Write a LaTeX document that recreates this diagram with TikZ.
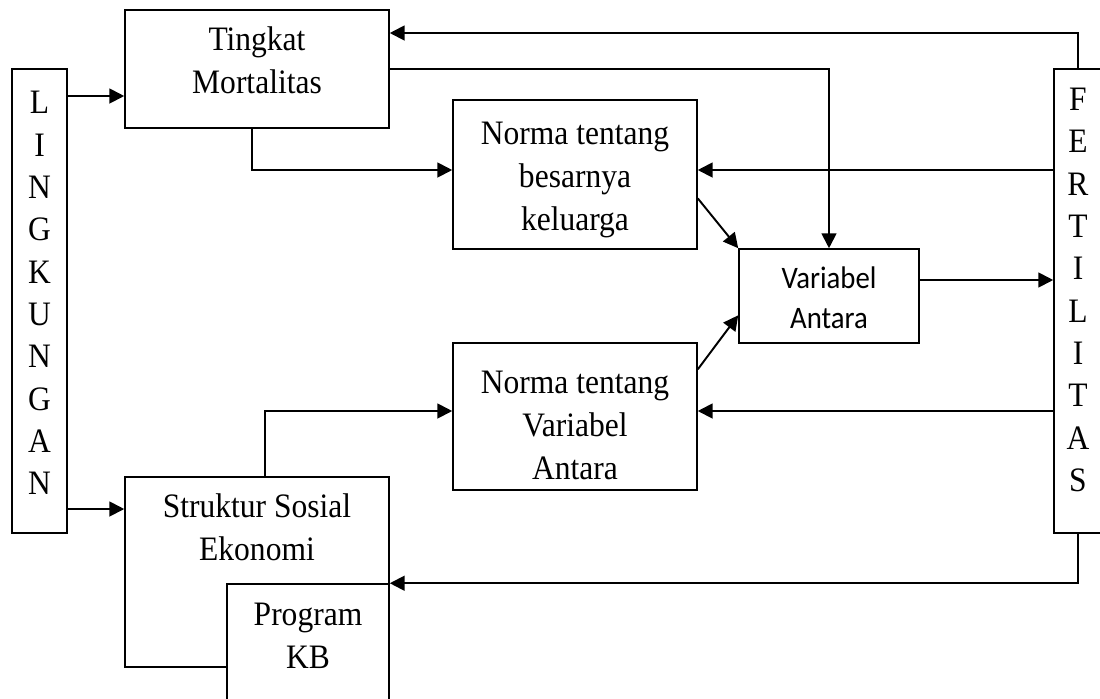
\documentclass[tikz,border=0pt]{standalone}
\usepackage{fontspec}
\setmainfont{Liberation Serif}[FakeStretch=0.92]
\newfontfamily\calibrifont{Carlito}[FakeStretch=0.92]
\usetikzlibrary{arrows.meta, positioning, calc}

\begin{document}
\begin{tikzpicture}[
    x=0.02cm, y=-0.02cm,
    box/.style={draw, line width=0.9pt, inner sep=0pt},
    txt/.style={align=center, inner sep=0pt, font=\fontsize{19.5}{24.5}\selectfont},
    col/.style={align=center, inner sep=0pt, font=\fontsize{19.5}{24.1}\selectfont},
    sans/.style={align=center, inner sep=0pt, font=\calibrifont\fontsize{17.8}{22.7}\selectfont},
    arr/.style={-{Triangle[length=8.5pt,width=8.5pt]}, line width=1.1pt},
  ]
  \clip (0,0) rectangle (1100,698);
  % side columns
  \node[box, minimum width=1.1cm, minimum height=9.28cm] (lbox) at (39.5,301) {};
  \node[col] (ltxt) at (39.5,293) {L\\I\\N\\G\\K\\U\\N\\G\\A\\N};
  \node[box, minimum width=0.96cm, minimum height=9.28cm] (fbox) at (1078,301) {};
  \node[col] (ftxt) at (1078,290) {F\\E\\R\\T\\I\\L\\I\\T\\A\\S};
  % boxes
  \node[box, minimum width=5.28cm, minimum height=2.36cm] (mort) at (257,69) {};
  \node[txt] (mortT) at (257,60) {Tingkat\\Mortalitas};
  \node[box, minimum width=4.88cm, minimum height=2.98cm] (norma1) at (575,174.5) {};
  \node[txt] (norma1T) at (575,180) {Norma tentang\\besarnya\\keluarga};
  \node[box, minimum width=4.88cm, minimum height=2.94cm] (norma2) at (575,416.5) {};
  \node[txt] (norma2T) at (575,425) {Norma tentang\\Variabel\\Antara};
  \node[box, minimum width=3.6cm, minimum height=1.88cm] (var) at (829,296) {};
  \node[sans] (varT) at (829,298) {Variabel\\Antara};
  \node[box, minimum width=5.28cm, minimum height=3.8cm] (sosial) at (257,572) {};
  \node[txt] (sosialT) at (257,527) {Struktur Sosial\\Ekonomi};
  \node[box, fill=white, minimum width=3.24cm, minimum height=2.72cm] (kb) at (308,652) {};
  \node[txt] (kbT) at (308,636) {Program\\KB};
  % levels
  \coordinate (yTop) at (0,33);
  \coordinate (yMort) at (0,96);
  \coordinate (yNorma1) at (0,170);
  \coordinate (yNorma2) at (0,411);
  \coordinate (ySosial) at (0,509);
  % connectors
  \draw[arr] (lbox.east |- yMort) -- (mort.west |- yMort);
  \draw[arr] (lbox.east |- ySosial) -- (sosial.west |- ySosial);
  \draw[arr] (fbox.north) |- (mort.east |- yTop);
  \draw[arr] (mort.east) -| (var.north);
  \draw[arr] ([xshift=-5*0.02cm]mort.south) |- (norma1.west |- yNorma1);
  \draw[arr] (fbox.west |- yNorma1) -- (norma1.east |- yNorma1);
  \draw[arr] (norma1.-11) -- (var.north west);
  \draw[arr] (norma2.21) -- (var.192);
  \draw[arr] (var.10) -- (fbox.west |- var.10);
  \draw[arr] (fbox.west |- yNorma2) -- (norma2.east |- yNorma2);
  \draw[arr] ([xshift=8*0.02cm]sosial.north) |- (norma2.west |- yNorma2);
  \draw[arr] (fbox.south) |- (kb.north east);
\end{tikzpicture}
\end{document}
